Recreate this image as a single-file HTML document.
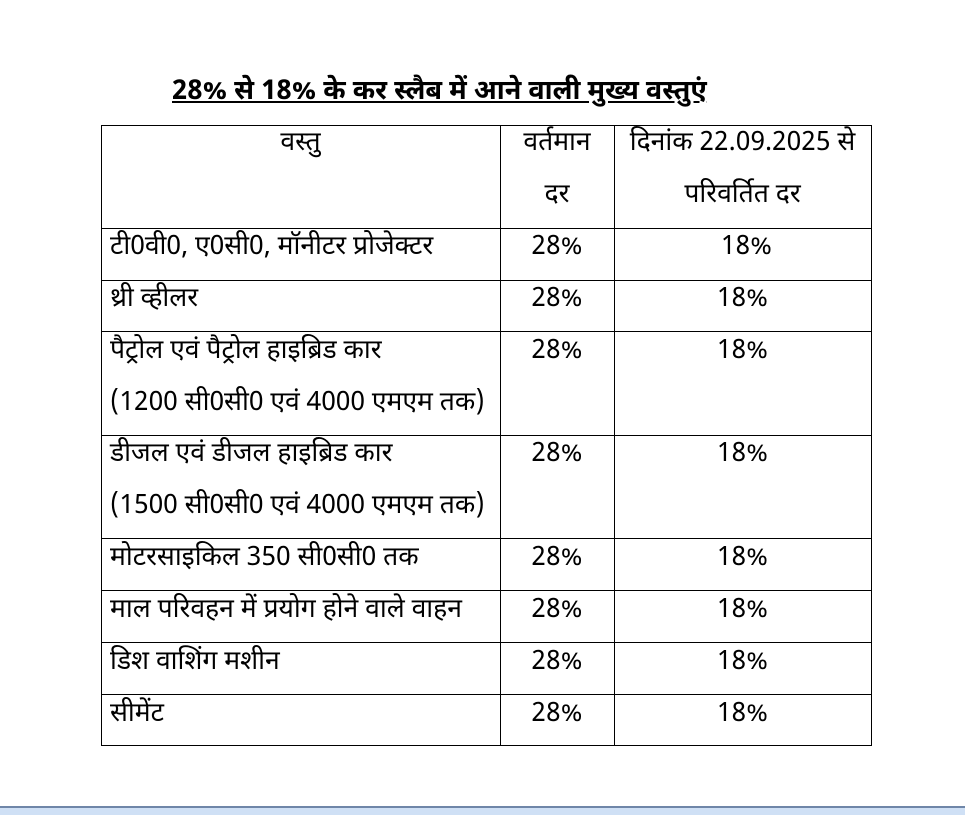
<!DOCTYPE html>
<html><head><meta charset="utf-8"><style>
body{margin:0;width:965px;height:815px;background:#fff;position:relative;overflow:hidden;font-family:"Nirmala UI","Mangal","Noto Sans Devanagari","Lohit Devanagari","Liberation Sans",sans-serif;color:#000}
.t{position:absolute;font-size:26.5px;line-height:28px;white-space:nowrap}
.c{text-align:center}
.h{position:absolute;height:1px;background:#000}
.v{position:absolute;width:1px;background:#000}
</style></head><body>
<div class="t" style="left:172px;top:80px;font-size:27px;font-weight:bold;text-decoration:underline">28% से 18% के कर स्लैब में आने वाली मुख्य वस्तुएं</div>
<div class="h" style="left:101px;width:771px;top:125px"></div>
<div class="h" style="left:101px;width:771px;top:228px"></div>
<div class="h" style="left:101px;width:771px;top:280px"></div>
<div class="h" style="left:101px;width:771px;top:331px"></div>
<div class="h" style="left:101px;width:771px;top:435px"></div>
<div class="h" style="left:101px;width:771px;top:538px"></div>
<div class="h" style="left:101px;width:771px;top:590px"></div>
<div class="h" style="left:101px;width:771px;top:642px"></div>
<div class="h" style="left:101px;width:771px;top:694px"></div>
<div class="h" style="left:101px;width:771px;top:745px"></div>
<div class="v" style="left:101px;top:125px;height:621px"></div>
<div class="v" style="left:500px;top:125px;height:621px"></div>
<div class="v" style="left:614px;top:125px;height:621px"></div>
<div class="v" style="left:871px;top:125px;height:621px"></div>

<div class="t c" style="left:101px;width:399px;top:130px">वस्तु</div>
<div class="t c" style="left:500px;width:114px;top:130px">वर्तमान</div>
<div class="t c" style="left:500px;width:114px;top:182px">दर</div>
<div class="t c" style="left:614px;width:257px;top:130px">दिनांक 22.09.2025 से</div>
<div class="t c" style="left:614px;width:257px;top:182px">परिवर्तित दर</div>

<div class="t" style="left:110px;top:234px">टी0वी0, ए0सी0, मॉनीटर प्रोजेक्टर</div>
<div class="t" style="left:110px;top:286px">थ्री व्हीलर</div>
<div class="t" style="left:110px;top:338px">पैट्रोल एवं पैट्रोल हाइब्रिड कार</div>
<div class="t" style="left:110px;top:390px">(1200 सी0सी0 एवं 4000 एमएम तक)</div>
<div class="t" style="left:110px;top:441px">डीजल एवं डीजल हाइब्रिड कार</div>
<div class="t" style="left:110px;top:493px">(1500 सी0सी0 एवं 4000 एमएम तक)</div>
<div class="t" style="left:110px;top:545px">मोटरसाइकिल 350 सी0सी0 तक</div>
<div class="t" style="left:110px;top:597px">माल परिवहन में प्रयोग होने वाले वाहन</div>
<div class="t" style="left:110px;top:649px">डिश वाशिंग मशीन</div>
<div class="t" style="left:110px;top:701px">सीमेंट</div>

<div class="t c" style="left:500px;width:114px;top:234px">28%</div>
<div class="t c" style="left:500px;width:114px;top:286px">28%</div>
<div class="t c" style="left:500px;width:114px;top:338px">28%</div>
<div class="t c" style="left:500px;width:114px;top:441px">28%</div>
<div class="t c" style="left:500px;width:114px;top:545px">28%</div>
<div class="t c" style="left:500px;width:114px;top:597px">28%</div>
<div class="t c" style="left:500px;width:114px;top:649px">28%</div>
<div class="t c" style="left:500px;width:114px;top:701px">28%</div>

<div class="t c" style="left:618px;width:257px;top:234px">18%</div>
<div class="t c" style="left:614px;width:257px;top:286px">18%</div>
<div class="t c" style="left:614px;width:257px;top:338px">18%</div>
<div class="t c" style="left:614px;width:257px;top:441px">18%</div>
<div class="t c" style="left:614px;width:257px;top:545px">18%</div>
<div class="t c" style="left:614px;width:257px;top:597px">18%</div>
<div class="t c" style="left:614px;width:257px;top:649px">18%</div>
<div class="t c" style="left:614px;width:257px;top:701px">18%</div>

<div style="position:absolute;left:0;top:806px;width:965px;height:2px;background:#6f86a8"></div>
<div style="position:absolute;left:0;top:808px;width:965px;height:7px;background:#cfe0f5"></div>
</body></html>
